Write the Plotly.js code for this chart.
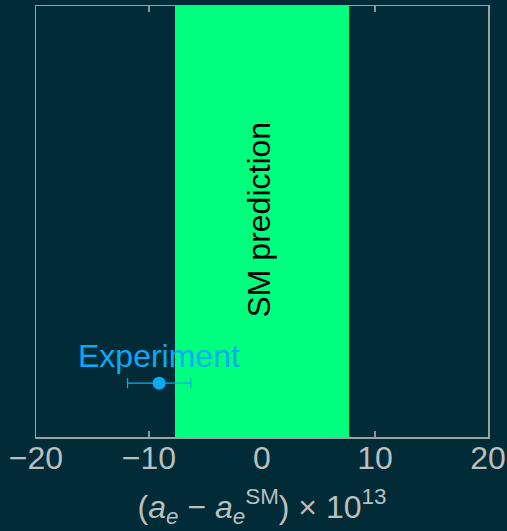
<!DOCTYPE html>
<html>
<head>
<meta charset="utf-8">
<script src="https://cdn.plot.ly/plotly-3.0.1.min.js"></script>
<style>html,body{margin:0;padding:0;background:#012b37;}</style>
</head>
<body>
<div id="chart" style="width:507px;height:531px;"></div>
<script>
// Data
const smCenter = [0];
const smHalfWidth = [7.7];
const smLabel = ["SM prediction"];
const expValue = [-9.1];
const expError = [2.8];
const expY = [0.125];
const expLabel = ["Experiment"];
const tickVals = [-20, -10, 0, 10, 20];
const innerTickVals = [-10, 10];

const bg = '#012b37';
const frame = '#9aa3a3';
const tickCol = '#8a9799';
const textCol = '#b9bfbf';
const blue = '#0aaaf5';
const green = '#00ff7f';
const font = 'Liberation Sans, Arial, sans-serif';

const traces = [
  {
    type: 'scatter', mode: 'markers',
    x: expValue, y: expY,
    marker: {color: blue, size: 13},
    error_x: {type: 'data', array: expError, color: blue, thickness: 1.3, width: 5},
    hoverinfo: 'skip', showlegend: false
  },
  {
    type: 'scatter', mode: 'markers', x: [0], y: [0.5], xaxis: 'x2',
    marker: {opacity: 0}, hoverinfo: 'skip', showlegend: false
  }
];

const layout = {
  width: 507, height: 531,
  margin: {l: 36, r: 19, t: 6, b: 94},
  paper_bgcolor: bg, plot_bgcolor: bg,
  font: {family: font, color: textCol, size: 32},
  showlegend: false,
  xaxis: {
    range: [-20, 20], tickvals: tickVals, ticks: '', showgrid: false, zeroline: false,
    showline: true, mirror: true, linecolor: frame, linewidth: 1.5,
    tickfont: {family: font, size: 32, color: textCol}, ticklabelstandoff: -8,
    title: {text: '(<i>a<sub>e</sub></i> − <i>a</i><sub><i>e</i></sub><sup>SM</sup>) × 10<sup>13</sup>',
            font: {family: font, size: 32, color: textCol}, standoff: 20},
    fixedrange: true
  },
  xaxis2: {
    overlaying: 'x', anchor: 'y', side: 'bottom', range: [-20, 20], tickvals: innerTickVals,
    ticks: 'inside', ticklen: 6, tickwidth: 1.5, tickcolor: tickCol,
    mirror: 'allticks', showline: true, linecolor: frame, linewidth: 1.5,
    showticklabels: false, showgrid: false, zeroline: false
  },
  yaxis: {
    range: [0, 1], showticklabels: false, ticks: '', showgrid: false, zeroline: false,
    showline: true, mirror: true, linecolor: frame, linewidth: 1.5, fixedrange: true
  },
  shapes: [{
    type: 'rect', xref: 'x', yref: 'paper', layer: 'below',
    x0: smCenter[0] - smHalfWidth[0], x1: smCenter[0] + smHalfWidth[0], y0: 0, y1: 1,
    fillcolor: green, line: {width: 0}
  }],
  annotations: [
    {x: smCenter[0] - 0.25, y: 0.505, xref: 'x', yref: 'paper', text: smLabel[0], textangle: -90,
     showarrow: false, font: {family: font, size: 32, color: '#000000'}, xanchor: 'center', yanchor: 'middle'},
    {x: expValue[0], y: 0.188, xref: 'x', yref: 'paper', text: expLabel[0],
     showarrow: false, font: {family: font, size: 32, color: blue}, xanchor: 'center', yanchor: 'middle'}
  ]
};

Plotly.newPlot('chart', traces, layout, {displayModeBar: false, staticPlot: true});
</script>
</body>
</html>
